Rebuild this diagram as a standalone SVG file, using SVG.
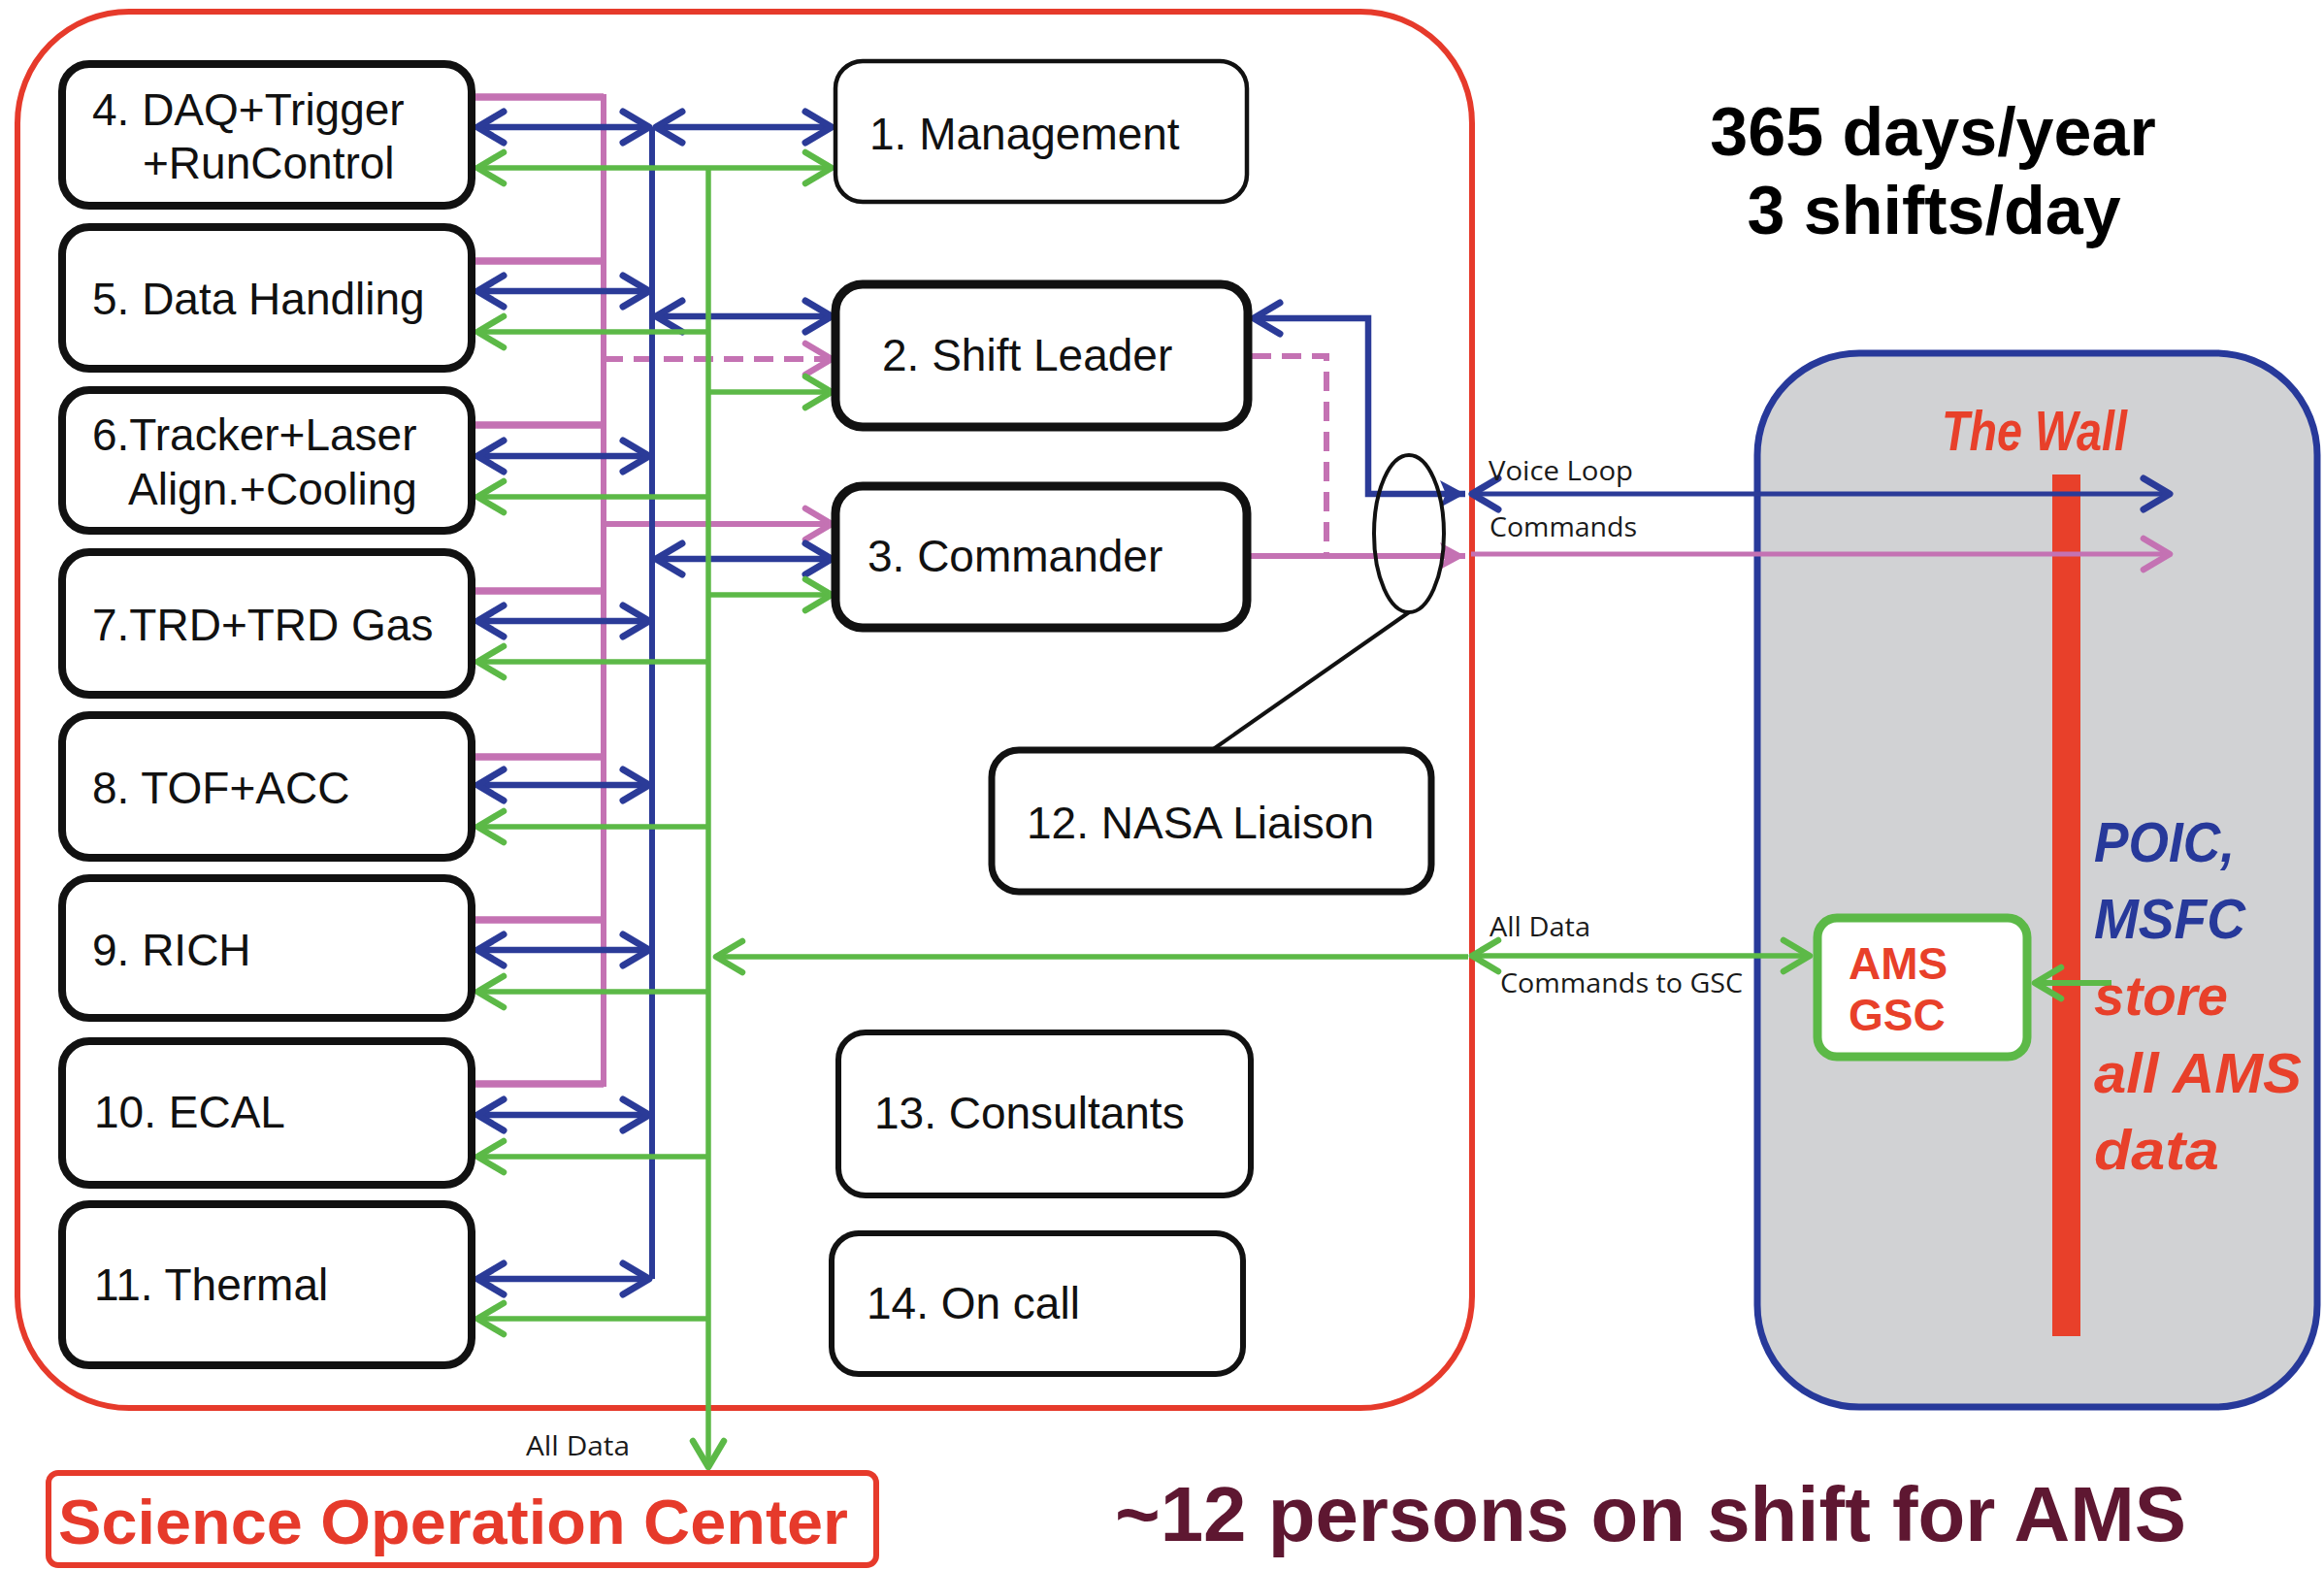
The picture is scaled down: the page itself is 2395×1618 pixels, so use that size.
<svg xmlns="http://www.w3.org/2000/svg" width="2395" height="1618" viewBox="0 0 2395 1618">
<style>
.bg{fill:#ffffff}
.node{fill:#ffffff;stroke:#111111}
.lbl{font-family:"Liberation Sans",Arial,sans-serif;font-size:46px;fill:#111111}
.small{font-family:"Open Sans","Liberation Sans",Arial,sans-serif;font-size:27px;fill:#1a1a1a}
.big{font-family:"Liberation Sans",Arial,sans-serif;font-weight:bold;font-size:70px;fill:#000000;text-anchor:middle}
.ital{font-family:"Liberation Sans",Arial,sans-serif;font-weight:bold;font-style:italic;font-size:58px}
.blue{stroke:#2b3b98;fill:none}
.green{stroke:#5cb947;fill:none}
.pink{stroke:#c472b3;fill:none}
</style>
<defs>
<marker id="mb" markerUnits="userSpaceOnUse" viewBox="-34 -22 42 44" refX="0" refY="0" markerWidth="42" markerHeight="44" orient="auto-start-reverse"><path d="M-27,-16 L0,0 L-27,16" fill="none" stroke="#2b3b98" stroke-width="7" stroke-linecap="round" stroke-linejoin="round"/></marker>
<marker id="mg" markerUnits="userSpaceOnUse" viewBox="-34 -22 42 44" refX="0" refY="0" markerWidth="42" markerHeight="44" orient="auto-start-reverse"><path d="M-27,-16 L0,0 L-27,16" fill="none" stroke="#5cb947" stroke-width="6.5" stroke-linecap="round" stroke-linejoin="round"/></marker>
<marker id="mp" markerUnits="userSpaceOnUse" viewBox="-34 -22 42 44" refX="0" refY="0" markerWidth="42" markerHeight="44" orient="auto-start-reverse"><path d="M-27,-16 L0,0 L-27,16" fill="none" stroke="#c472b3" stroke-width="6.5" stroke-linecap="round" stroke-linejoin="round"/></marker>
<marker id="mbf" markerUnits="userSpaceOnUse" viewBox="-34 -22 42 44" refX="0" refY="0" markerWidth="42" markerHeight="44" orient="auto"><path d="M-26,-14 L0,0 L-26,14 L-20,0 Z" fill="#2b3b98"/></marker>
<marker id="mpf" markerUnits="userSpaceOnUse" viewBox="-34 -22 42 44" refX="0" refY="0" markerWidth="42" markerHeight="44" orient="auto"><path d="M-26,-14 L0,0 L-26,14 L-20,0 Z" fill="#c472b3"/></marker>
</defs>
<rect class="bg" x="0" y="0" width="2395" height="1618"/>

<!-- Containers -->
<g id="soc-container">
<rect x="18" y="12" width="1499" height="1439" rx="115" fill="none" stroke="#e63a2b" stroke-width="6"/>
</g>
<g id="poic-container">
<rect x="1811" y="364" width="577" height="1086" rx="105" fill="#d1d2d4" stroke="#27399a" stroke-width="7"/>
<rect x="2115" y="489" width="29" height="888" fill="#e8402a"/>
<text class="ital" x="2001" y="464" font-size="50" fill="#e8402a" textLength="191" lengthAdjust="spacingAndGlyphs">The Wall</text>
</g>

<!-- Connectors -->
<g id="connectors">
<!-- pink -->
<g class="pink">
<path d="M490,100H622M490,269H622M490,438H622M490,609H622M490,780H622M490,948H622M490,1117H622" stroke-width="7.5"/>
<line x1="622" y1="97" x2="622" y2="1120" stroke-width="6"/>
<line x1="622" y1="370" x2="857" y2="370" stroke-width="6" stroke-dasharray="20 11" marker-end="url(#mp)"/>
<line x1="622" y1="540" x2="857" y2="540" stroke-width="6" marker-end="url(#mp)"/>
<line x1="1289" y1="573" x2="1510" y2="573" stroke-width="6" marker-end="url(#mpf)"/>
<path d="M1290,367H1367V573" stroke-width="6" stroke-dasharray="20 11"/>
<line x1="1516" y1="571" x2="2236" y2="571" stroke-width="5" marker-end="url(#mp)"/>
</g>
<!-- blue -->
<g class="blue" stroke-width="6.5">
<line x1="492" y1="131" x2="669" y2="131" marker-start="url(#mb)" marker-end="url(#mb)"/>
<line x1="492" y1="300" x2="669" y2="300" marker-start="url(#mb)" marker-end="url(#mb)"/>
<line x1="492" y1="470" x2="669" y2="470" marker-start="url(#mb)" marker-end="url(#mb)"/>
<line x1="492" y1="640" x2="669" y2="640" marker-start="url(#mb)" marker-end="url(#mb)"/>
<line x1="492" y1="809" x2="669" y2="809" marker-start="url(#mb)" marker-end="url(#mb)"/>
<line x1="492" y1="979" x2="669" y2="979" marker-start="url(#mb)" marker-end="url(#mb)"/>
<line x1="492" y1="1149" x2="669" y2="1149" marker-start="url(#mb)" marker-end="url(#mb)"/>
<line x1="492" y1="1318" x2="669" y2="1318" marker-start="url(#mb)" marker-end="url(#mb)"/>
<line x1="672" y1="131" x2="672" y2="1318" stroke-width="6"/>
<line x1="676" y1="131" x2="857" y2="131" marker-start="url(#mb)" marker-end="url(#mb)"/>
<line x1="676" y1="326" x2="857" y2="326" marker-start="url(#mb)" marker-end="url(#mb)"/>
<line x1="676" y1="576" x2="857" y2="576" marker-start="url(#mb)" marker-end="url(#mb)"/>
<path d="M1292,328H1410V509H1510" marker-start="url(#mb)" marker-end="url(#mbf)"/>
<line x1="1517" y1="509" x2="2236" y2="509" stroke-width="5" marker-start="url(#mb)" marker-end="url(#mb)"/>
</g>
<!-- green -->
<g class="green" stroke-width="5.5">
<line x1="492" y1="173" x2="857" y2="173" marker-start="url(#mg)" marker-end="url(#mg)"/>
<line x1="492" y1="342" x2="730" y2="342" marker-start="url(#mg)"/>
<line x1="492" y1="512" x2="730" y2="512" marker-start="url(#mg)"/>
<line x1="492" y1="682" x2="730" y2="682" marker-start="url(#mg)"/>
<line x1="492" y1="852" x2="730" y2="852" marker-start="url(#mg)"/>
<line x1="492" y1="1022" x2="730" y2="1022" marker-start="url(#mg)"/>
<line x1="492" y1="1192" x2="730" y2="1192" marker-start="url(#mg)"/>
<line x1="492" y1="1359" x2="730" y2="1359" marker-start="url(#mg)"/>
<line x1="730" y1="173" x2="730" y2="1512" marker-end="url(#mg)"/>
<line x1="730" y1="404" x2="857" y2="404" marker-end="url(#mg)"/>
<line x1="730" y1="613" x2="857" y2="613" marker-end="url(#mg)"/>
<line x1="1513" y1="986" x2="738" y2="986" marker-end="url(#mg)"/>
<line x1="1517" y1="985" x2="1865" y2="985" marker-start="url(#mg)" marker-end="url(#mg)"/>
<line x1="2176" y1="1013" x2="2097" y2="1013" stroke-width="6" marker-end="url(#mg)"/>
</g>
<!-- NASA liaison callout -->
<g fill="none" stroke="#111111" stroke-width="4">
<ellipse cx="1452" cy="550" rx="36" ry="81"/>
<line x1="1452" y1="631" x2="1249" y2="773"/>
</g>
</g>

<!-- Left column nodes -->
<g id="n4"><rect class="node" x="64" y="66" width="422" height="146" rx="28" stroke-width="8"/>
<text class="lbl" x="95" y="129">4. DAQ+Trigger</text><text class="lbl" x="147" y="184">+RunControl</text></g>
<g id="n5"><rect class="node" x="64" y="234" width="422" height="146" rx="28" stroke-width="8"/>
<text class="lbl" x="95" y="324">5. Data Handling</text></g>
<g id="n6"><rect class="node" x="64" y="402" width="422" height="145" rx="28" stroke-width="8"/>
<text class="lbl" x="95" y="464">6.Tracker+Laser</text><text class="lbl" x="132" y="520">Align.+Cooling</text></g>
<g id="n7"><rect class="node" x="64" y="569" width="422" height="147" rx="28" stroke-width="8"/>
<text class="lbl" x="95" y="660">7.TRD+TRD Gas</text></g>
<g id="n8"><rect class="node" x="64" y="737" width="422" height="147" rx="28" stroke-width="8"/>
<text class="lbl" x="95" y="828">8. TOF+ACC</text></g>
<g id="n9"><rect class="node" x="64" y="905" width="422" height="144" rx="28" stroke-width="8"/>
<text class="lbl" x="95" y="995">9. RICH</text></g>
<g id="n10"><rect class="node" x="64" y="1073" width="422" height="148" rx="28" stroke-width="8"/>
<text class="lbl" x="97" y="1162">10. ECAL</text></g>
<g id="n11"><rect class="node" x="64" y="1241" width="422" height="166" rx="28" stroke-width="8"/>
<text class="lbl" x="97" y="1340">11. Thermal</text></g>

<!-- Right column nodes -->
<g id="n1"><rect class="node" x="861" y="63" width="424" height="145" rx="28" stroke-width="4.5"/>
<text class="lbl" x="896" y="154">1. Management</text></g>
<g id="n2"><rect class="node" x="861" y="293" width="425" height="147" rx="28" stroke-width="9"/>
<text class="lbl" x="909" y="382">2. Shift Leader</text></g>
<g id="n3"><rect class="node" x="861" y="501" width="424" height="146" rx="28" stroke-width="9"/>
<text class="lbl" x="894" y="589">3. Commander</text></g>
<g id="n12"><rect class="node" x="1022" y="773" width="453" height="146" rx="28" stroke-width="7"/>
<text class="lbl" x="1058" y="864">12. NASA Liaison</text></g>
<g id="n13"><rect class="node" x="864" y="1064" width="425" height="168" rx="28" stroke-width="6"/>
<text class="lbl" x="901" y="1163">13. Consultants</text></g>
<g id="n14"><rect class="node" x="857" y="1271" width="424" height="145" rx="28" stroke-width="6"/>
<text class="lbl" x="893" y="1359">14. On call</text></g>

<g id="ams-gsc"><rect x="1873" y="946" width="216" height="143" rx="20" fill="#ffffff" stroke="#5cb947" stroke-width="9"/>
<text x="1905" y="1009" font-family="Liberation Sans,Arial,sans-serif" font-weight="bold" font-size="46" fill="#e8402a">AMS</text>
<text x="1905" y="1062" font-family="Liberation Sans,Arial,sans-serif" font-weight="bold" font-size="46" fill="#e8402a">GSC</text></g>

<g id="soc"><rect x="50" y="1518" width="853" height="95" rx="10" fill="#ffffff" stroke="#e63a2b" stroke-width="6"/>
<text x="60" y="1591" font-family="Liberation Sans,Arial,sans-serif" font-weight="bold" font-size="64" fill="#e63a2b" textLength="814" lengthAdjust="spacingAndGlyphs">Science Operation Center</text></g>

<!-- Connector labels -->
<g id="labels">
<text class="small" x="542" y="1500" textLength="107" lengthAdjust="spacingAndGlyphs">All Data</text>
<text class="small" x="1534" y="495" textLength="149" lengthAdjust="spacingAndGlyphs">Voice Loop</text>
<text class="small" x="1535" y="553" textLength="152" lengthAdjust="spacingAndGlyphs">Commands</text>
<text class="small" x="1535" y="965" textLength="104" lengthAdjust="spacingAndGlyphs">All Data</text>
<text class="small" x="1546" y="1023" textLength="250" lengthAdjust="spacingAndGlyphs">Commands to GSC</text>
</g>

<!-- Free texts -->
<g id="notes">
<text class="big" x="1992" y="160">365 days/year</text>
<text class="big" x="1993" y="241">3 shifts/day</text>
<text class="ital" x="2158" y="888" fill="#27399a" textLength="145" lengthAdjust="spacingAndGlyphs">POIC,</text>
<text class="ital" x="2158" y="967" fill="#27399a" textLength="156" lengthAdjust="spacingAndGlyphs">MSFC</text>
<text class="ital" x="2158" y="1046" fill="#e8402a" textLength="138" lengthAdjust="spacingAndGlyphs">store</text>
<text class="ital" x="2158" y="1126" fill="#e8402a" textLength="214" lengthAdjust="spacingAndGlyphs">all AMS</text>
<text class="ital" x="2158" y="1205" fill="#e8402a" textLength="129" lengthAdjust="spacingAndGlyphs">data</text>
<text x="1149" y="1588" font-family="Liberation Sans,Arial,sans-serif" font-weight="bold" font-size="80" fill="#5e1731" textLength="1104" lengthAdjust="spacingAndGlyphs">~12 persons on shift for AMS</text>
</g>
</svg>
